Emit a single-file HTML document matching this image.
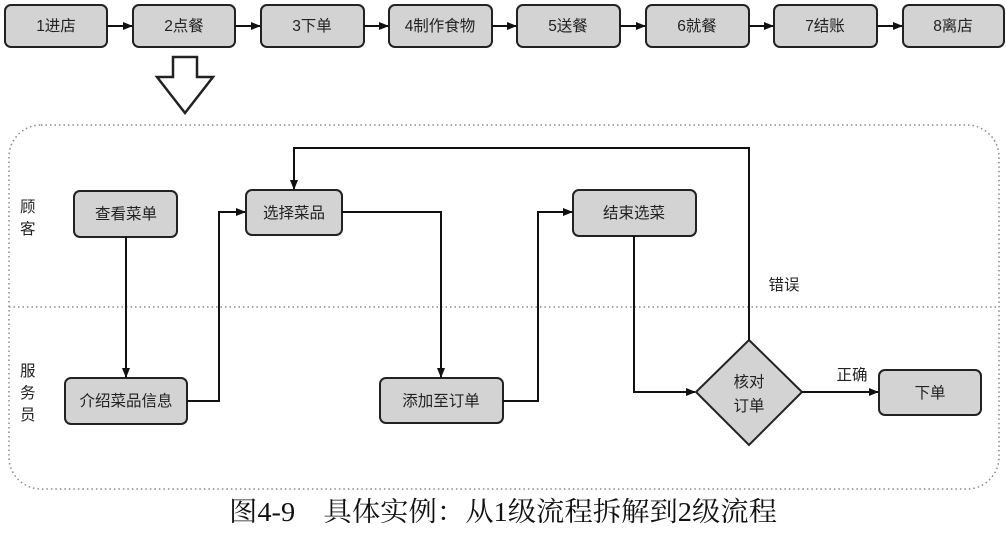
<!DOCTYPE html>
<html><head><meta charset="utf-8"><style>
body{margin:0;background:#fff;width:1006px;height:531px;overflow:hidden}
svg text{font-family:"Liberation Sans","Noto Sans CJK SC",sans-serif;font-size:15.5px;fill:#222}
</style></head><body>
<svg width="1006" height="531" xmlns="http://www.w3.org/2000/svg">
<defs><marker id="a" markerWidth="10" markerHeight="8" refX="9" refY="4" orient="auto" markerUnits="userSpaceOnUse"><path d="M0,0 L10,4 L0,8z" fill="#111"/></marker></defs>
<g fill="#d3d3d3" stroke="#222" stroke-width="2">
<rect x="5" y="5" width="102" height="42" rx="6"/>
<rect x="133" y="5" width="102" height="42" rx="6"/>
<rect x="261" y="5" width="103" height="42" rx="6"/>
<rect x="389" y="5" width="103" height="42" rx="6"/>
<rect x="517" y="5" width="103" height="42" rx="6"/>
<rect x="646" y="5" width="103" height="42" rx="6"/>
<rect x="774" y="5" width="103" height="42" rx="6"/>
<rect x="903" y="5" width="101" height="42" rx="6"/>
</g>
<g stroke="#111" stroke-width="2" marker-end="url(#a)">
<line x1="107" y1="26" x2="132" y2="26"/><line x1="235" y1="26" x2="260" y2="26"/>
<line x1="364" y1="26" x2="388" y2="26"/><line x1="492" y1="26" x2="516" y2="26"/>
<line x1="620" y1="26" x2="645" y2="26"/><line x1="749" y1="26" x2="773" y2="26"/>
<line x1="877" y1="26" x2="902" y2="26"/>
</g>
<g text-anchor="middle">
<text x="56" y="31">1进店</text><text x="184" y="31">2点餐</text><text x="312" y="31">3下单</text>
<text x="440" y="31">4制作食物</text><text x="568" y="31">5送餐</text><text x="697" y="31">6就餐</text>
<text x="825" y="31">7结账</text><text x="953" y="31">8离店</text>
</g>
<path d="M173,57 L197,57 L197,77 L213,77 L185,113 L157,77 L173,77z" fill="#fff" stroke="#222" stroke-width="2.5"/>
<rect x="9" y="125" width="990" height="364" rx="32" fill="none" stroke="#888" stroke-width="1.5" stroke-dasharray="1.5 3"/>
<line x1="9" y1="307" x2="999" y2="307" stroke="#888" stroke-width="1.5" stroke-dasharray="1.5 3"/>
<text x="20" y="212">顾</text><text x="20" y="234">客</text>
<text x="20" y="376">服</text><text x="20" y="398">务</text><text x="20" y="420">员</text>
<g fill="#d3d3d3" stroke="#222" stroke-width="2">
<rect x="74" y="191" width="103" height="46" rx="6"/>
<rect x="65" y="378" width="122" height="46" rx="6"/>
<rect x="246" y="190" width="96" height="45" rx="6"/>
<rect x="380" y="378" width="123" height="45" rx="6"/>
<rect x="573" y="190" width="123" height="46" rx="6"/>
<rect x="879" y="370" width="102" height="45" rx="6"/>
<path d="M749,340 L802,392 L749,445 L696,392z"/>
</g>
<g stroke="#111" stroke-width="2" fill="none" marker-end="url(#a)">
<path d="M126,237 L126,377"/>
<path d="M187,401 L219,401 L219,212 L245,212"/>
<path d="M342,212 L441,212 L441,377"/>
<path d="M503,401 L538,401 L538,212 L572,212"/>
<path d="M634,236 L634,392 L695,392"/>
<path d="M749,340 L749,148 L294,148 L294,189"/>
<path d="M802,392 L878,392"/>
</g>
<g text-anchor="middle">
<text x="126" y="219">查看菜单</text><text x="126" y="406">介绍菜品信息</text>
<text x="294" y="218">选择菜品</text><text x="441" y="406">添加至订单</text>
<text x="634" y="218">结束选菜</text><text x="930" y="398">下单</text>
<text x="749" y="387">核对</text><text x="749" y="411">订单</text>
<text x="784" y="290">错误</text><text x="852" y="380">正确</text>
</g>
<text x="229" y="521" textLength="548" lengthAdjust="spacingAndGlyphs" style="font-family:'Liberation Serif','Noto Serif CJK SC',serif;font-size:27px;fill:#111">图4-9　具体实例：从1级流程拆解到2级流程</text>
</svg>
</body></html>
